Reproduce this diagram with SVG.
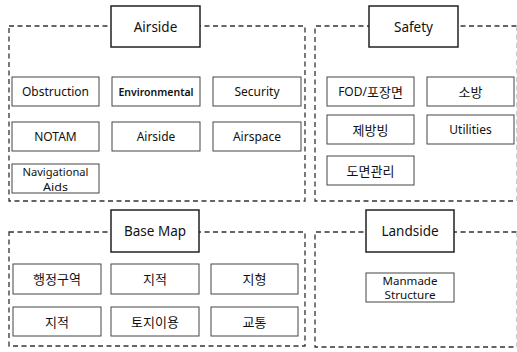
<svg xmlns="http://www.w3.org/2000/svg" width="517" height="352" viewBox="0 0 517 352">
  <style>
    .group { fill: none; stroke: #333; stroke-width: 1.3; stroke-dasharray: 5 3.5; }
    .edge { fill: none; stroke: #ccc; stroke-width: 1; stroke-dasharray: 5 3.5; }
    .title { fill: #fff; stroke: #222; stroke-width: 1.5; }
    .item { fill: #fff; stroke: #444; stroke-width: 1; }
    text { font-family: "Noto Sans", "Noto Sans CJK KR", sans-serif; fill: #111; text-anchor: middle; dominant-baseline: central; }
    .t { font-size: 13.5px; }
    .i { font-size: 12px; }
    .k { font-size: 13px; }
    .two { font-size: 11px; }
  </style>
  <rect width="517" height="352" fill="#fff"/>

  <!-- group frames -->
  <g id="connectors">
    <rect class="group" x="9" y="26" width="296" height="175"/>
    <path class="group" d="M516.5 26 H315 V201 H516.5"/>
    <rect class="group" x="9" y="232" width="296" height="114"/>
    <path class="group" d="M516.5 232 H315 V347 H516.5"/>
    <path class="edge" d="M516.5 26 V201 M516.5 232 V347"/>
  </g>

  <!-- Airside -->
  <g id="airside">
    <rect class="title" x="111" y="6" width="89" height="41"/>
    <text class="t" x="155.5" y="26.5">Airside</text>
  </g>
  <g id="obstruction"><rect class="item" x="12" y="77" width="87" height="29"/><text class="i" x="55.5" y="91.5">Obstruction</text></g>
  <g id="environmental"><rect class="item" x="112" y="77" width="88" height="29"/><text class="i" x="156" y="91.5" style="font-size:10.5px;font-weight:600">Environmental</text></g>
  <g id="security"><rect class="item" x="213" y="77" width="88" height="29"/><text class="i" x="257" y="91.5">Security</text></g>
  <g id="notam"><rect class="item" x="12" y="122" width="87" height="29"/><text class="i" x="55.5" y="136.5">NOTAM</text></g>
  <g id="airside-item"><rect class="item" x="112" y="122" width="88" height="29"/><text class="i" x="156" y="136.5">Airside</text></g>
  <g id="airspace"><rect class="item" x="213" y="122" width="88" height="29"/><text class="i" x="257" y="136.5">Airspace</text></g>
  <g id="navaids"><rect class="item" x="12" y="164" width="87" height="29"/><text class="two" x="55.5" y="171.5" textLength="66" lengthAdjust="spacingAndGlyphs">Navigational</text><text class="two" x="55.5" y="186.5" textLength="25" lengthAdjust="spacingAndGlyphs">Aids</text></g>

  <!-- Safety -->
  <g id="safety">
    <rect class="title" x="369" y="6" width="89" height="41"/>
    <text class="t" x="413.5" y="26.5">Safety</text>
  </g>
  <g id="fod"><rect class="item" x="327" y="77" width="87" height="29"/><text class="i" x="370.5" y="91.5">FOD/<tspan class="k">포장면</tspan></text></g>
  <g id="sobang"><rect class="item" x="427" y="77" width="87" height="29"/><text class="k" x="470.5" y="91.5">소방</text></g>
  <g id="deicing"><rect class="item" x="327" y="115" width="87" height="29"/><text class="k" x="370.5" y="129.5">제방빙</text></g>
  <g id="utilities"><rect class="item" x="427" y="115" width="87" height="29"/><text class="i" x="470.5" y="129.5">Utilities</text></g>
  <g id="drawings"><rect class="item" x="327" y="156" width="87" height="29"/><text class="k" x="370.5" y="170.5">도면관리</text></g>

  <!-- Base Map -->
  <g id="basemap">
    <rect class="title" x="111" y="210" width="88" height="42"/>
    <text class="t" x="155" y="231">Base Map</text>
  </g>
  <g id="admin"><rect class="item" x="13" y="264" width="88" height="30"/><text class="k" x="57" y="279">행정구역</text></g>
  <g id="cadastre1"><rect class="item" x="111" y="264" width="88" height="30"/><text class="k" x="155" y="279">지적</text></g>
  <g id="terrain"><rect class="item" x="211" y="264" width="87" height="30"/><text class="k" x="254.5" y="279">지형</text></g>
  <g id="cadastre2"><rect class="item" x="13" y="307" width="88" height="29"/><text class="k" x="57" y="321.5">지적</text></g>
  <g id="landuse"><rect class="item" x="111" y="307" width="88" height="29"/><text class="k" x="155" y="321.5">토지이용</text></g>
  <g id="traffic"><rect class="item" x="211" y="307" width="87" height="29"/><text class="k" x="254.5" y="321.5">교통</text></g>

  <!-- Landside -->
  <g id="landside">
    <rect class="title" x="366" y="210" width="88" height="42"/>
    <text class="t" x="410" y="231">Landside</text>
  </g>
  <g id="manmade"><rect class="item" x="366" y="273" width="88" height="29"/><text class="two" x="410" y="280.5" style="font-size:10.5px" textLength="55" lengthAdjust="spacingAndGlyphs">Manmade</text><text class="two" x="410" y="295" style="font-size:10.5px" textLength="51" lengthAdjust="spacingAndGlyphs">Structure</text></g>
</svg>
